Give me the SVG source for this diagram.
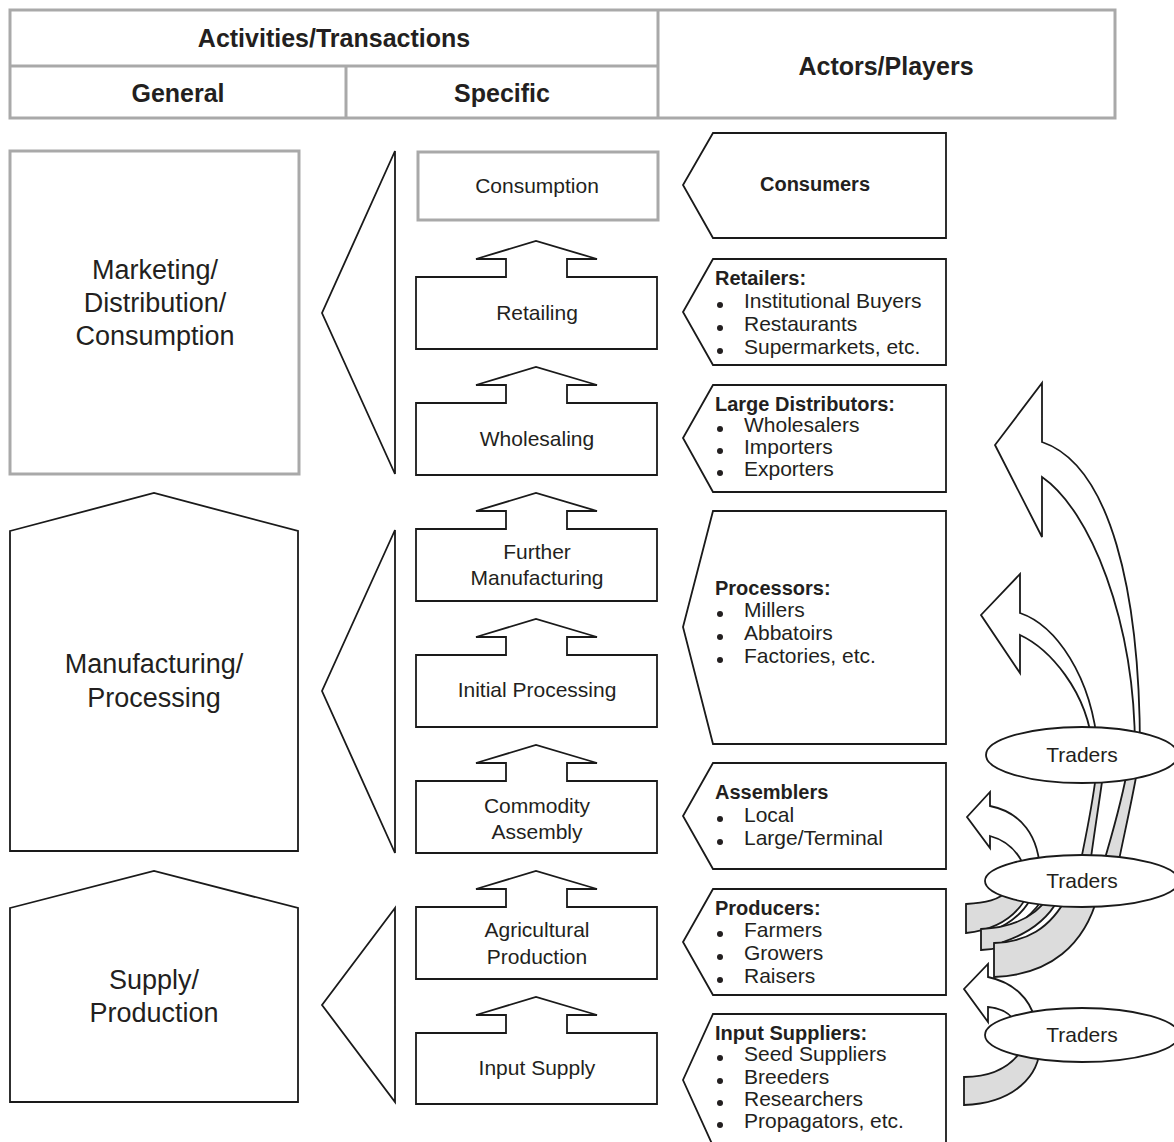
<svg xmlns="http://www.w3.org/2000/svg" width="1174" height="1142" viewBox="0 0 1174 1142">
  <style>
    .hdr { fill: #ffffff; stroke: #a9a9a9; stroke-width: 3; }
    .hline { stroke: #a9a9a9; stroke-width: 3; fill: none; }
    .box { fill: #ffffff; stroke: #1a1a1a; stroke-width: 1.8; stroke-linejoin: miter; }
    .gbox { fill: #ffffff; stroke: #a9a9a9; stroke-width: 3; }
    .tail { fill: #dcdcdc; stroke: #1a1a1a; stroke-width: 1.8; }
    .arr { fill: #ffffff; stroke: #1a1a1a; stroke-width: 1.8; stroke-linejoin: miter; }
    .ell { fill: #ffffff; stroke: #1a1a1a; stroke-width: 1.8; }
    text { font-family: "Liberation Sans", Arial, sans-serif; fill: #231f20; }
    .th { font-size: 25px; font-weight: bold; text-anchor: middle; }
    .big { font-size: 27px; text-anchor: middle; }
    .mid { font-size: 21px; text-anchor: middle; }
    .hd { font-size: 20px; font-weight: bold; }
    .it { font-size: 21px; }
    .bul { fill: #231f20; }
  </style>

  <!-- table header -->
  <g id="header">
    <rect class="hdr" x="10" y="10" width="1105" height="108"/>
    <path class="hline" d="M10,66 H658 M346,66 V118 M658,10 V118"/>
    <text class="th" x="334" y="47">Activities/Transactions</text>
    <text class="th" x="178" y="102">General</text>
    <text class="th" x="502" y="102">Specific</text>
    <text class="th" x="886" y="75">Actors/Players</text>
  </g>

  <!-- general stages -->
  <g id="general-marketing">
    <rect class="gbox" x="10" y="151" width="289" height="323"/>
    <text class="big" x="155" y="279">Marketing/</text>
    <text class="big" x="155" y="312">Distribution/</text>
    <text class="big" x="155" y="345">Consumption</text>
  </g>
  <g id="general-manufacturing">
    <path class="box" d="M10,531 L154,493 L298,531 V851 H10 Z"/>
    <text class="big" x="154" y="673">Manufacturing/</text>
    <text class="big" x="154" y="707">Processing</text>
  </g>
  <g id="general-supply">
    <path class="box" d="M10,908 L154,871 L298,908 V1102 H10 Z"/>
    <text class="big" x="154" y="989">Supply/</text>
    <text class="big" x="154" y="1022">Production</text>
  </g>

  <!-- brackets grouping the specific steps -->
  <g id="brackets">
    <path class="box" d="M395,151 L322,313 L395,474 Z"/>
    <path class="box" d="M395,530 L322,691 L395,853 Z"/>
    <path class="box" d="M395,908 L322,1005 L395,1102 Z"/>
  </g>

  <!-- specific steps, each with an up arrow into the step above -->
  <g id="step-consumption">
    <rect class="gbox" x="418" y="152" width="240" height="68"/>
    <text class="mid" x="537" y="193">Consumption</text>
  </g>
  <g id="step-retailing">
    <path class="box" d="M416,277 H506 V259 H476 L536,241 L597,259 H567 V277 H657 V349 H416 Z"/>
    <text class="mid" x="537" y="320">Retailing</text>
  </g>
  <g id="step-wholesaling">
    <path class="box" d="M416,403 H506 V385 H476 L536,367 L597,385 H567 V403 H657 V475 H416 Z"/>
    <text class="mid" x="537" y="446">Wholesaling</text>
  </g>
  <g id="step-further-manufacturing">
    <path class="box" d="M416,529 H506 V511 H476 L536,493 L597,511 H567 V529 H657 V601 H416 Z"/>
    <text class="mid" x="537" y="559">Further</text>
    <text class="mid" x="537" y="585">Manufacturing</text>
  </g>
  <g id="step-initial-processing">
    <path class="box" d="M416,655 H506 V637 H476 L536,619 L597,637 H567 V655 H657 V727 H416 Z"/>
    <text class="mid" x="537" y="697">Initial Processing</text>
  </g>
  <g id="step-commodity-assembly">
    <path class="box" d="M416,781 H506 V763 H476 L536,745 L597,763 H567 V781 H657 V853 H416 Z"/>
    <text class="mid" x="537" y="813">Commodity</text>
    <text class="mid" x="537" y="839">Assembly</text>
  </g>
  <g id="step-agricultural-production">
    <path class="box" d="M416,907 H506 V889 H476 L536,871 L597,889 H567 V907 H657 V979 H416 Z"/>
    <text class="mid" x="537" y="937">Agricultural</text>
    <text class="mid" x="537" y="964">Production</text>
  </g>
  <g id="step-input-supply">
    <path class="box" d="M416,1033 H506 V1015 H476 L536,997 L597,1015 H567 V1033 H657 V1104 H416 Z"/>
    <text class="mid" x="537" y="1075">Input Supply</text>
  </g>

  <!-- actors -->
  <g id="actor-consumers">
    <path class="box" d="M713,133 H946 V238 H713 L683,185 Z"/>
    <text class="hd" x="815" y="191" text-anchor="middle">Consumers</text>
  </g>
  <g id="actor-retailers">
    <path class="box" d="M713,259 H946 V365 H713 L683,312 Z"/>
    <text class="hd" x="715" y="285">Retailers:</text>
    <circle class="bul" cx="720" cy="305" r="3"/>
    <circle class="bul" cx="720" cy="328" r="3"/>
    <circle class="bul" cx="720" cy="351" r="3"/>
    <text class="it" x="744" y="308">Institutional Buyers</text>
    <text class="it" x="744" y="331">Restaurants</text>
    <text class="it" x="744" y="354">Supermarkets, etc.</text>
  </g>
  <g id="actor-distributors">
    <path class="box" d="M713,385 H946 V492 H713 L683,438 Z"/>
    <text class="hd" x="715" y="411">Large Distributors:</text>
    <circle class="bul" cx="720" cy="429" r="3"/>
    <circle class="bul" cx="720" cy="451" r="3"/>
    <circle class="bul" cx="720" cy="473" r="3"/>
    <text class="it" x="744" y="432">Wholesalers</text>
    <text class="it" x="744" y="454">Importers</text>
    <text class="it" x="744" y="476">Exporters</text>
  </g>
  <g id="actor-processors">
    <path class="box" d="M713,511 H946 V744 H713 L683,627 Z"/>
    <text class="hd" x="715" y="595">Processors:</text>
    <circle class="bul" cx="720" cy="614" r="3"/>
    <circle class="bul" cx="720" cy="637" r="3"/>
    <circle class="bul" cx="720" cy="660" r="3"/>
    <text class="it" x="744" y="617">Millers</text>
    <text class="it" x="744" y="640">Abbatoirs</text>
    <text class="it" x="744" y="663">Factories, etc.</text>
  </g>
  <g id="actor-assemblers">
    <path class="box" d="M713,763 H946 V869 H713 L683,816 Z"/>
    <text class="hd" x="715" y="799">Assemblers</text>
    <circle class="bul" cx="720" cy="819" r="3"/>
    <circle class="bul" cx="720" cy="842" r="3"/>
    <text class="it" x="744" y="822">Local</text>
    <text class="it" x="744" y="845">Large/Terminal</text>
  </g>
  <g id="actor-producers">
    <path class="box" d="M713,889 H946 V995 H713 L683,942 Z"/>
    <text class="hd" x="715" y="915">Producers:</text>
    <circle class="bul" cx="720" cy="934" r="3"/>
    <circle class="bul" cx="720" cy="957" r="3"/>
    <circle class="bul" cx="720" cy="980" r="3"/>
    <text class="it" x="744" y="937">Farmers</text>
    <text class="it" x="744" y="960">Growers</text>
    <text class="it" x="744" y="983">Raisers</text>
  </g>
  <g id="actor-input-suppliers">
    <path class="box" d="M713,1014 H946 V1146 H713 L683,1080 Z"/>
    <text class="hd" x="715" y="1040">Input Suppliers:</text>
    <circle class="bul" cx="720" cy="1058" r="3"/>
    <circle class="bul" cx="720" cy="1081" r="3"/>
    <circle class="bul" cx="720" cy="1103" r="3"/>
    <circle class="bul" cx="720" cy="1125" r="3"/>
    <text class="it" x="744" y="1061">Seed Suppliers</text>
    <text class="it" x="744" y="1084">Breeders</text>
    <text class="it" x="744" y="1106">Researchers</text>
    <text class="it" x="744" y="1128">Propagators, etc.</text>
  </g>

  <!-- curved trader arrows -->
  <g id="connectors">
    <!-- back faces of the twisting bands -->
    <path class="tail" d="M964,1077 C990,1077 1012,1068 1025,1045 L1040,1045 C1040,1075 1015,1103 964,1105 Z"/>
    <path class="tail" d="M966,904 C985,903 1000,900 1008,890 L1030,890 C1018,918 995,930 966,933 Z"/>
    <path class="arr" d="M1030,900 L1042,900 C1030,918 1012,930 992,936 L990,932 C1008,925 1022,914 1030,900 Z"/>
    <path class="tail" d="M981,929 C1010,928 1035,918 1050,895 L1064,895 C1048,930 1020,948 981,950 Z"/>
    <path class="arr" d="M1058,900 L1068,900 C1055,922 1035,938 1005,946 L1003,942 C1030,933 1048,918 1058,900 Z"/>
    <path class="tail" d="M994,943 C1025,942 1050,930 1068,895 L1098,895 C1085,945 1050,975 994,977 Z"/>
    <path class="tail" d="M1096,775 L1103,775 C1098,810 1094,835 1090,865 L1080,865 C1086,835 1092,808 1096,775 Z"/>
    <path class="tail" d="M1127,772 L1137,772 C1130,810 1124,835 1118,865 L1103,865 C1112,835 1120,808 1127,772 Z"/>

    <!-- front faces ending in arrowheads -->
    <path class="arr" d="M1042,442 L1042,383 L995,445 L1042,537 L1042,477 C1090,510 1135,620 1135,750 L1140,750 C1140,590 1110,465 1042,442 Z"/>
    <path class="arr" d="M1020,613 L1020,574 L981,615 L1020,673 L1020,635 C1048,648 1088,690 1093,750 L1098,750 C1092,675 1055,625 1020,613 Z"/>
    <path class="arr" d="M990,806 L990,792 L967,817 L990,848 L990,836 C1005,840 1020,850 1027,875 L1040,875 C1040,835 1020,812 990,806 Z"/>
    <path class="arr" d="M988,977 L988,964 L964,989 L988,1022 L988,1007 C1000,1008 1010,1012 1018,1025 L1036,1025 C1032,998 1012,982 988,977 Z"/>
  </g>

  <g id="traders-1">
    <ellipse class="ell" cx="1082" cy="755" rx="96" ry="28"/>
    <text class="mid" x="1082" y="762">Traders</text>
  </g>
  <g id="traders-2">
    <ellipse class="ell" cx="1082" cy="881" rx="97" ry="26"/>
    <text class="mid" x="1082" y="888">Traders</text>
  </g>
  <g id="traders-3">
    <ellipse class="ell" cx="1082" cy="1035" rx="97" ry="27"/>
    <text class="mid" x="1082" y="1042">Traders</text>
  </g>
</svg>
